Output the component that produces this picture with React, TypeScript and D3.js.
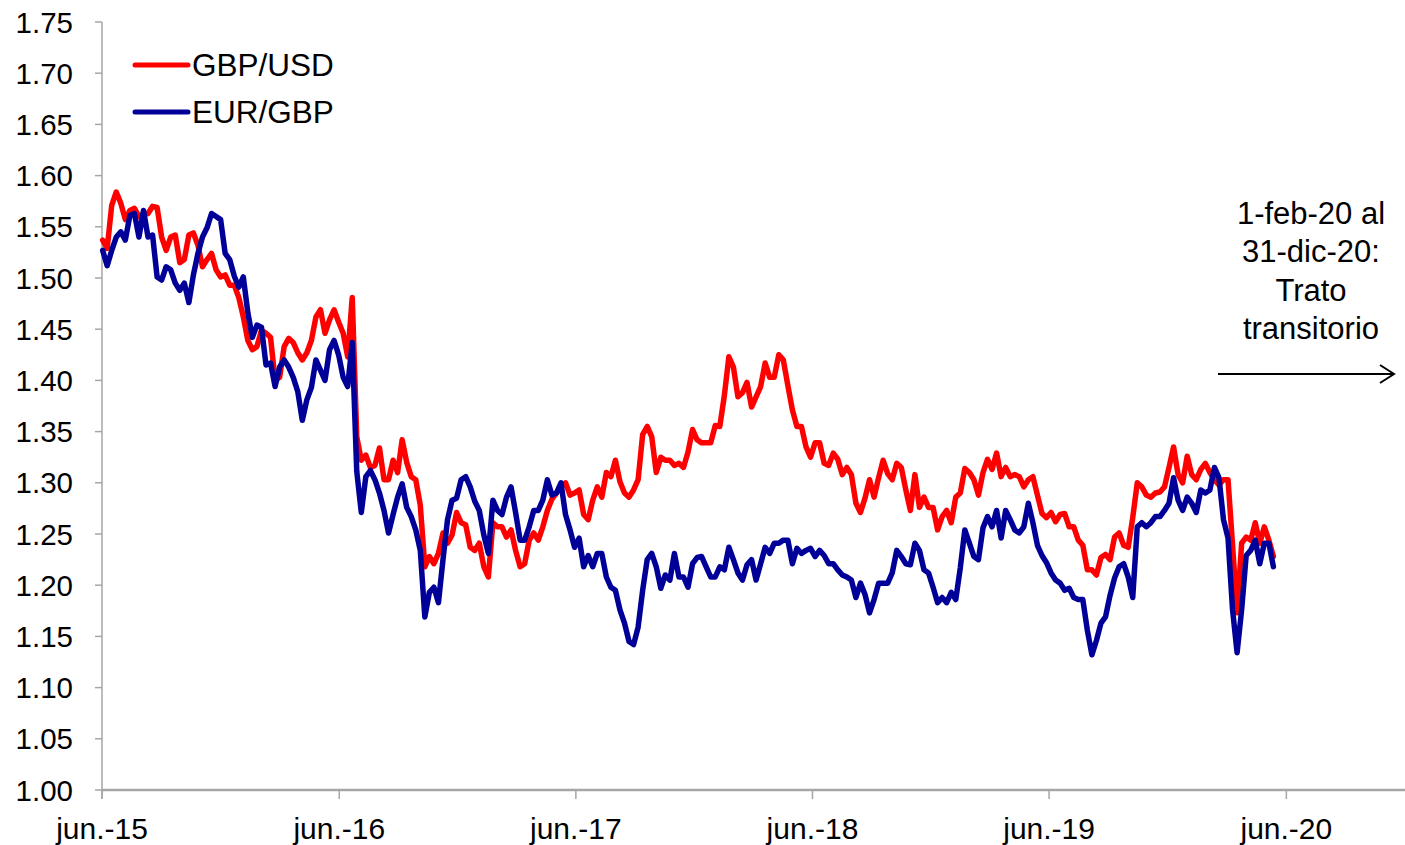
import React from "react";
import * as d3 from "d3";

const gbpUsd: number[] = [
  1.537, 1.529, 1.571, 1.584, 1.573, 1.557, 1.566, 1.568, 1.560, 1.562,
  1.563, 1.570, 1.569, 1.540, 1.527, 1.540, 1.542, 1.515, 1.518, 1.542,
  1.544, 1.532, 1.511, 1.518, 1.524, 1.508, 1.501, 1.503, 1.493, 1.493,
  1.481, 1.462, 1.439, 1.430, 1.433, 1.449, 1.446, 1.442, 1.400, 1.403,
  1.433, 1.441, 1.437, 1.427, 1.420, 1.427, 1.439, 1.462, 1.469, 1.446,
  1.459, 1.469, 1.457, 1.446, 1.423, 1.481, 1.345, 1.322, 1.327, 1.315,
  1.317, 1.334, 1.303, 1.303, 1.322, 1.310, 1.342, 1.320, 1.306, 1.303,
  1.278, 1.218, 1.228, 1.221, 1.231, 1.251, 1.241, 1.249, 1.271, 1.261,
  1.259, 1.237, 1.234, 1.241, 1.218, 1.208, 1.261, 1.257, 1.257, 1.247,
  1.254, 1.234, 1.218, 1.221, 1.244, 1.251, 1.244, 1.257, 1.273, 1.284,
  1.290, 1.296, 1.300, 1.288, 1.290, 1.293, 1.269, 1.264, 1.283, 1.296,
  1.286, 1.310, 1.306, 1.322, 1.301, 1.290, 1.286, 1.293, 1.303, 1.347,
  1.355, 1.345, 1.310, 1.325, 1.322, 1.322, 1.317, 1.319, 1.315, 1.330,
  1.352, 1.342, 1.339, 1.339, 1.339, 1.356, 1.355, 1.385, 1.423, 1.413,
  1.384, 1.388, 1.398, 1.374, 1.384, 1.394, 1.417, 1.403, 1.403, 1.425,
  1.420, 1.395, 1.371, 1.355, 1.355, 1.335, 1.325, 1.339, 1.339, 1.319,
  1.317, 1.329, 1.323, 1.308, 1.315, 1.308, 1.280, 1.271, 1.285, 1.303,
  1.286, 1.305, 1.322, 1.309, 1.303, 1.319, 1.315, 1.293, 1.273, 1.308,
  1.276, 1.286, 1.276, 1.276, 1.254, 1.267, 1.273, 1.261, 1.286, 1.290,
  1.314, 1.310, 1.303, 1.288, 1.310, 1.323, 1.313, 1.329, 1.306, 1.315,
  1.306, 1.308, 1.306, 1.296, 1.303, 1.306, 1.288, 1.270, 1.266, 1.271,
  1.262, 1.269, 1.270, 1.257, 1.257, 1.244, 1.239, 1.215, 1.215, 1.210,
  1.227, 1.230, 1.225, 1.247, 1.251, 1.239, 1.237, 1.266, 1.300, 1.296,
  1.288, 1.286, 1.290, 1.291, 1.296, 1.315, 1.335, 1.308, 1.300, 1.326,
  1.308, 1.303, 1.313, 1.319, 1.310, 1.303, 1.298, 1.303, 1.303, 1.239,
  1.173, 1.241, 1.247, 1.244, 1.261, 1.241, 1.257, 1.244, 1.228,
];

const eurGbp: number[] = [
  1.527, 1.512, 1.527, 1.540, 1.545, 1.537, 1.561, 1.563, 1.540, 1.566,
  1.540, 1.542, 1.501, 1.498, 1.511, 1.508, 1.495, 1.488, 1.495, 1.476,
  1.503, 1.524, 1.540, 1.549, 1.563, 1.560, 1.557, 1.524, 1.518, 1.502,
  1.491, 1.501, 1.466, 1.442, 1.454, 1.452, 1.415, 1.417, 1.394, 1.413,
  1.420, 1.413, 1.403, 1.389, 1.361, 1.381, 1.393, 1.420, 1.410, 1.400,
  1.430, 1.439, 1.425, 1.403, 1.394, 1.437, 1.311, 1.271, 1.306, 1.312,
  1.303, 1.290, 1.273, 1.251, 1.269, 1.286, 1.299, 1.276, 1.267, 1.254,
  1.234, 1.169, 1.193, 1.198, 1.183, 1.225, 1.264, 1.283, 1.285, 1.303,
  1.306, 1.296, 1.282, 1.273, 1.249, 1.231, 1.283, 1.273, 1.269, 1.286,
  1.296, 1.271, 1.244, 1.244, 1.257, 1.273, 1.273, 1.283, 1.303, 1.288,
  1.290, 1.300, 1.269, 1.254, 1.237, 1.246, 1.218, 1.229, 1.218, 1.231,
  1.231, 1.208, 1.198, 1.195, 1.176, 1.163, 1.145, 1.142, 1.159, 1.195,
  1.225, 1.231, 1.218, 1.197, 1.210, 1.205, 1.231, 1.208, 1.208, 1.198,
  1.221, 1.227, 1.228, 1.218, 1.208, 1.208, 1.218, 1.215, 1.237, 1.225,
  1.212, 1.205, 1.220, 1.225, 1.205, 1.221, 1.237, 1.231, 1.241, 1.241,
  1.244, 1.244, 1.221, 1.236, 1.231, 1.234, 1.236, 1.228, 1.234, 1.229,
  1.221, 1.221, 1.215, 1.210, 1.208, 1.205, 1.188, 1.202, 1.191, 1.173,
  1.186, 1.202, 1.202, 1.202, 1.212, 1.234, 1.228, 1.221, 1.220, 1.241,
  1.234, 1.215, 1.212, 1.198, 1.183, 1.188, 1.183, 1.193, 1.186, 1.217,
  1.254, 1.241, 1.228, 1.225, 1.256, 1.267, 1.257, 1.273, 1.246, 1.273,
  1.264, 1.254, 1.251, 1.257, 1.280, 1.261, 1.239, 1.229, 1.222, 1.212,
  1.205, 1.202, 1.195, 1.197, 1.188, 1.186, 1.186, 1.156, 1.132, 1.146,
  1.163, 1.169, 1.190, 1.207, 1.218, 1.221, 1.208, 1.188, 1.257, 1.261,
  1.257, 1.261, 1.267, 1.267, 1.273, 1.280, 1.305, 1.283, 1.273, 1.286,
  1.280, 1.271, 1.293, 1.290, 1.293, 1.315, 1.305, 1.264, 1.246, 1.176,
  1.134, 1.176, 1.229, 1.234, 1.244, 1.221, 1.241, 1.241, 1.218,
];

const seriesNames = ["GBP/USD", "EUR/GBP"];
const seriesColors = ["#ff0000", "#000099"];
const yTicks = [1.0, 1.05, 1.1, 1.15, 1.2, 1.25, 1.3, 1.35, 1.4, 1.45, 1.5, 1.55, 1.6, 1.65, 1.7, 1.75];
const xTickLabels = ["jun.-15", "jun.-16", "jun.-17", "jun.-18", "jun.-19", "jun.-20"];
const xTickDates = [2015, 2016, 2017, 2018, 2019, 2020].map((y) => new Date(y, 5, 1));
const annotationLines = ["1-feb-20 al", "31-dic-20:", "Trato", "transitorio"];

const firstObs = new Date(2015, 5, 2);
const dates = gbpUsd.map((_, i) => d3.timeDay.offset(firstObs, 7 * i));

const W = 1405;
const H = 845;
const FONT = "'Liberation Sans', Arial, Helvetica, sans-serif";

export default function App() {
  const x = d3
    .scaleTime()
    .domain([new Date(2015, 5, 1), new Date(2020, 11, 1)])
    .range([102, 1405]);
  const y = d3.scaleLinear().domain([1.0, 1.75]).range([790, 22]);

  const line = d3
    .line<number>()
    .x((_, i) => x(dates[i]))
    .y((d) => y(d));

  const series = [gbpUsd, eurGbp];
  const axisColor = "#a6a6a6";

  return (
    <div style={{ position: "fixed", left: 0, top: 0, background: "#fff" }}>
      <svg width={W} height={H} style={{ display: "block" }}>
        <rect width={W} height={H} fill="#fff" />
        {/* y axis */}
        <line x1={x.range()[0]} x2={x.range()[0]} y1={y(1.75)} y2={y(1.0) + 9} stroke={axisColor} strokeWidth={1.5} />
        {yTicks.map((t) => (
          <g key={t}>
            <line x1={x.range()[0] - 7} x2={x.range()[0]} y1={y(t)} y2={y(t)} stroke={axisColor} strokeWidth={1.5} />
            <text
              x={73}
              y={y(t)}
              dy="0.36em"
              textAnchor="end"
              fontFamily={FONT}
              fontSize={29.5}
              fill="#000"
            >
              {t.toFixed(2)}
            </text>
          </g>
        ))}
        {/* x axis */}
        <line x1={x.range()[0]} x2={W} y1={y(1.0)} y2={y(1.0)} stroke={axisColor} strokeWidth={2.5} />
        {xTickDates.map((d, i) => (
          <g key={i}>
            <line x1={x(d)} x2={x(d)} y1={y(1.0)} y2={y(1.0) + 9} stroke={axisColor} strokeWidth={1.5} />
            <text
              x={x(d)}
              y={839}
              textAnchor="middle"
              fontFamily={FONT}
              fontSize={30}
              fill="#000"
            >
              {xTickLabels[i]}
            </text>
          </g>
        ))}
        {/* series */}
        {series.map((s, si) => (
          <path
            key={si}
            d={line(s) || ""}
            fill="none"
            stroke={seriesColors[si]}
            strokeWidth={5.5}
            strokeLinejoin="round"
            strokeLinecap="round"
          />
        ))}
        {/* legend */}
        {seriesNames.map((n, i) => (
          <g key={n}>
            <line x1={135} x2={188} y1={65 + i * 47} y2={65 + i * 47} stroke={seriesColors[i]} strokeWidth={5} strokeLinecap="round" />
            <text x={192} y={65 + i * 47} dy="0.36em" fontFamily={FONT} fontSize={31.5} fill="#000">
              {n}
            </text>
          </g>
        ))}
        {/* annotation */}
        {annotationLines.map((t, i) => (
          <text
            key={i}
            x={1311}
            y={213 + i * 38.3}
            dy="0.36em"
            textAnchor="middle"
            fontFamily={FONT}
            fontSize={31}
            fill="#000"
          >
            {t}
          </text>
        ))}
        <line x1={1218} x2={1394} y1={374} y2={374} stroke="#000" strokeWidth={2} />
        <polyline points="1380,365 1394,374 1380,383" fill="none" stroke="#000" strokeWidth={2} />
      </svg>
    </div>
  );
}
